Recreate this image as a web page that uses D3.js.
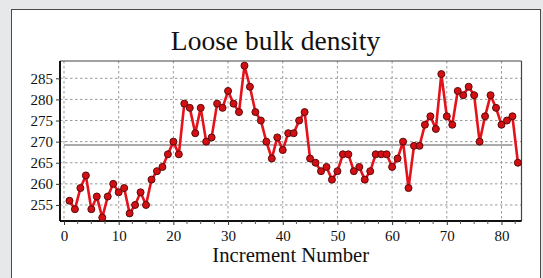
<!DOCTYPE html>
<html>
<head>
<meta charset="utf-8">
<script src="https://cdn.jsdelivr.net/npm/d3@7"></script>
<style>
  html, body { margin: 0; padding: 0; background: #e7e8ea; }
  svg { display: block; }
  svg text { font-family: 'Liberation Serif', 'Times New Roman', serif; }
</style>
</head>
<body>
<svg id="chart" width="543" height="278"></svg>
<script>
// ---- data ----
const increments = d3.range(1, 84);
const density = [
  256,254,259,262,254,257,252,257,260,258,
  259,253,255,258,255,261,263,264,267,270,
  267,279,278,272,278,270,271,279,278,282,
  279,277,288,283,277,275,270,266,271,268,
  272,272,275,277,266,265,263,264,261,263,
  267,267,263,264,261,263,267,267,267,264,
  266,270,259,269,269,274,276,273,286,276,
  274,282,281,283,281,270,276,281,278,274,
  275,276,265
];
const meanValue = 269.2;
const meanRange = [0, 82];
const xTicks = [0, 10, 20, 30, 40, 50, 60, 70, 80];
const yTicks = [255, 260, 265, 270, 275, 280, 285];
const titleText = "Loose bulk density";
const xTitle = "Increment Number";

// ---- drawing ----
const svg = d3.select("#chart");
const serif = "'Liberation Serif', 'Times New Roman', serif";
const plot = { left: 60, right: 521.5, top: 61, bottom: 221 };

// panel
svg.append("rect").attr("x", 11.5).attr("y", 9.5).attr("width", 529).attr("height", 290)
  .attr("fill", "#ffffff").attr("stroke", "#4a4a4a").attr("stroke-width", 1);

const x = d3.scaleLinear().domain([-0.73, 83.66]).range([plot.left, plot.right]);
const y = d3.scaleLinear().domain([251.2, 289.1]).range([plot.bottom, plot.top]);

// grid
const grid = svg.append("g");
grid.selectAll("line.vg").data(xTicks).enter().append("line")
  .attr("x1", d => x(d)).attr("x2", d => x(d))
  .attr("y1", plot.top).attr("y2", plot.bottom)
  .attr("stroke", "#999").attr("stroke-width", 1).attr("stroke-dasharray", "2.5,2.5");
grid.selectAll("line.hg").data(yTicks).enter().append("line")
  .attr("x1", plot.left).attr("x2", plot.right)
  .attr("y1", d => y(d)).attr("y2", d => y(d))
  .attr("stroke", "#999").attr("stroke-width", 1).attr("stroke-dasharray", "2.5,2.5");

// mean line
svg.append("line")
  .attr("x1", x(meanRange[0])).attr("x2", x(meanRange[1]))
  .attr("y1", y(meanValue)).attr("y2", y(meanValue))
  .attr("stroke", "#ababab").attr("stroke-width", 2);

// frame top/right
svg.append("line").attr("x1", plot.left).attr("x2", plot.right).attr("y1", plot.top).attr("y2", plot.top)
  .attr("stroke", "#444").attr("stroke-width", 1.2);
svg.append("line").attr("x1", plot.right).attr("x2", plot.right).attr("y1", plot.top).attr("y2", plot.bottom)
  .attr("stroke", "#444").attr("stroke-width", 1.2);

// axes
const xAxis = d3.axisBottom(x).tickValues(xTicks).tickSize(4).tickPadding(5).tickFormat(d3.format("d"));
const gx = svg.append("g").attr("transform", `translate(0,${plot.bottom})`).call(xAxis)
  .attr("font-family", serif).attr("font-size", 15);
gx.select(".domain").attr("d", `M${plot.left},0H${plot.right}`).attr("stroke", "#111").attr("stroke-width", 2);
gx.selectAll(".tick line").attr("stroke", "#333");
gx.selectAll("text").style("font-family", serif).style("font-size", "15px").attr("fill", "#111");
// minor ticks
const minor = d3.range(0, 84, 2.5).filter(v => v % 10 !== 0);
gx.selectAll("line.minor").data(minor).enter().append("line")
  .attr("x1", d => x(d)).attr("x2", d => x(d)).attr("y1", 0).attr("y2", 3)
  .attr("stroke", "#555").attr("stroke-width", 1);

const yAxis = d3.axisLeft(y).tickValues(yTicks).tickSize(4).tickPadding(3).tickFormat(d3.format("d"));
const gy = svg.append("g").attr("transform", `translate(${plot.left},0)`).call(yAxis)
  .attr("font-family", serif).attr("font-size", 15);
gy.select(".domain").attr("d", `M0,${plot.top}V${plot.bottom}`).attr("stroke", "#111").attr("stroke-width", 2);
gy.selectAll(".tick line").attr("stroke", "#333");
gy.selectAll("text").style("font-family", serif).style("font-size", "15px").attr("fill", "#111");

// series
const pts = increments.map((k, i) => ({ k, v: density[i] }));
svg.append("path").datum(pts)
  .attr("d", d3.line().x(d => x(d.k)).y(d => y(d.v)))
  .attr("fill", "none").attr("stroke", "#e3121b").attr("stroke-width", 2.6)
  .attr("stroke-linejoin", "round");
svg.selectAll("circle.pt").data(pts).enter().append("circle")
  .attr("cx", d => x(d.k)).attr("cy", d => y(d.v)).attr("r", 3.5)
  .attr("fill", "#d30f14").attr("stroke", "#5a0a0a").attr("stroke-width", 1);

// titles
svg.append("text").attr("x", 275.5).attr("y", 49.5).attr("text-anchor", "middle")
  .style("font-family", serif).style("font-size", "27.5px")
  .attr("fill", "#111").text(titleText);
svg.append("text").attr("x", (plot.left + plot.right) / 2).attr("y", 261.5).attr("text-anchor", "middle")
  .style("font-family", serif).style("font-size", "20.7px")
  .attr("fill", "#111").text(xTitle);
</script>
</body>
</html>
